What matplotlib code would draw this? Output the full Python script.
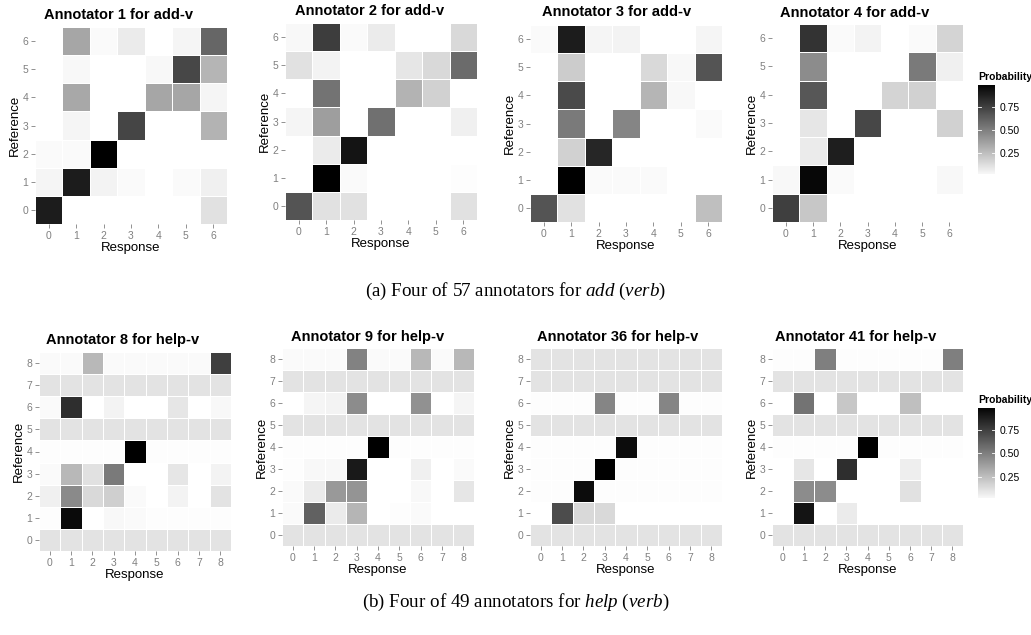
import numpy as np
import matplotlib
matplotlib.use("Agg")
import matplotlib.pyplot as plt
from matplotlib.colors import LinearSegmentedColormap, Normalize

plt.rcParams['font.family'] = ['Liberation Sans', 'DejaVu Sans']
plt.rcParams['mathtext.fontset'] = 'custom'
plt.rcParams['mathtext.rm'] = 'Liberation Serif'
plt.rcParams['mathtext.it'] = 'Liberation Serif:italic'

# ---- data: rows listed from top (highest reference) to bottom (reference 0)
U = 0.111  # uniform rows

ann1_add = [
    [0.00, 0.35, 0.02, 0.08, 0.00, 0.04, 0.60],
    [0.00, 0.03, 0.00, 0.00, 0.03, 0.72, 0.29],
    [0.00, 0.34, 0.00, 0.00, 0.35, 0.35, 0.04],
    [0.00, 0.04, 0.00, 0.73, 0.00, 0.00, 0.30],
    [0.02, 0.02, 1.00, 0.00, 0.00, 0.00, 0.00],
    [0.04, 0.89, 0.05, 0.02, 0.00, 0.02, 0.06],
    [0.89, 0.00, 0.00, 0.00, 0.00, 0.00, 0.12],
]
ann2_add = [
    [0.03, 0.76, 0.02, 0.08, 0.00, 0.00, 0.15],
    [0.12, 0.05, 0.00, 0.00, 0.10, 0.15, 0.58],
    [0.00, 0.55, 0.00, 0.00, 0.30, 0.18, 0.00],
    [0.04, 0.38, 0.00, 0.56, 0.00, 0.00, 0.06],
    [0.00, 0.08, 0.92, 0.00, 0.00, 0.00, 0.00],
    [0.00, 1.00, 0.02, 0.00, 0.00, 0.00, 0.01],
    [0.67, 0.12, 0.12, 0.00, 0.00, 0.00, 0.12],
]
ann3_add = [
    [0.02, 0.89, 0.04, 0.05, 0.00, 0.00, 0.04],
    [0.00, 0.20, 0.00, 0.00, 0.15, 0.03, 0.67],
    [0.00, 0.71, 0.00, 0.00, 0.29, 0.03, 0.00],
    [0.00, 0.52, 0.00, 0.48, 0.00, 0.00, 0.02],
    [0.00, 0.18, 0.85, 0.00, 0.00, 0.00, 0.00],
    [0.00, 1.00, 0.02, 0.02, 0.02, 0.00, 0.00],
    [0.67, 0.12, 0.00, 0.00, 0.00, 0.00, 0.25],
]
ann4_add = [
    [0.00, 0.80, 0.02, 0.05, 0.00, 0.02, 0.17],
    [0.00, 0.45, 0.00, 0.00, 0.00, 0.52, 0.06],
    [0.00, 0.66, 0.00, 0.00, 0.17, 0.18, 0.00],
    [0.00, 0.10, 0.00, 0.72, 0.00, 0.00, 0.18],
    [0.00, 0.08, 0.88, 0.00, 0.00, 0.00, 0.00],
    [0.03, 0.97, 0.02, 0.00, 0.00, 0.00, 0.03],
    [0.75, 0.22, 0.00, 0.00, 0.00, 0.00, 0.00],
]

ann8_help = [
    [0.02, 0.02, 0.28, 0.02, 0.02, 0.02, 0.02, 0.02, 0.75],
    [U] * 9,
    [0.02, 0.82, 0.00, 0.05, 0.00, 0.00, 0.10, 0.00, 0.03],
    [U] * 9,
    [0.01, 0.01, 0.01, 0.01, 1.00, 0.01, 0.01, 0.01, 0.01],
    [0.02, 0.28, 0.12, 0.52, 0.00, 0.00, 0.10, 0.00, 0.05],
    [0.06, 0.46, 0.15, 0.19, 0.02, 0.00, 0.05, 0.00, 0.11],
    [0.01, 0.96, 0.00, 0.03, 0.02, 0.01, 0.01, 0.01, 0.01],
    [U] * 9,
]
ann9_help = [
    [0.02, 0.02, 0.02, 0.49, 0.02, 0.02, 0.28, 0.02, 0.28],
    [U] * 9,
    [0.00, 0.04, 0.05, 0.45, 0.00, 0.00, 0.43, 0.00, 0.04],
    [U] * 9,
    [0.01, 0.01, 0.01, 0.01, 1.00, 0.01, 0.01, 0.01, 0.01],
    [0.01, 0.03, 0.03, 0.90, 0.00, 0.00, 0.06, 0.00, 0.02],
    [0.02, 0.08, 0.40, 0.42, 0.00, 0.00, 0.03, 0.00, 0.10],
    [0.02, 0.62, 0.08, 0.29, 0.00, 0.01, 0.02, 0.00, 0.00],
    [U] * 9,
]
ann36_help = [
    [U] * 9,
    [U] * 9,
    [0.01, 0.01, 0.01, 0.48, 0.01, 0.01, 0.48, 0.01, 0.01],
    [U] * 9,
    [0.01, 0.01, 0.01, 0.01, 0.95, 0.01, 0.01, 0.01, 0.01],
    [0.01, 0.01, 0.01, 1.00, 0.01, 0.01, 0.01, 0.01, 0.01],
    [0.01, 0.01, 0.95, 0.01, 0.01, 0.01, 0.01, 0.01, 0.01],
    [0.00, 0.70, 0.15, 0.15, 0.00, 0.00, 0.00, 0.00, 0.00],
    [U] * 9,
]
ann41_help = [
    [0.01, 0.01, 0.50, 0.01, 0.01, 0.01, 0.01, 0.01, 0.50],
    [U] * 9,
    [0.00, 0.55, 0.00, 0.22, 0.00, 0.00, 0.25, 0.00, 0.00],
    [U] * 9,
    [0.01, 0.01, 0.01, 0.01, 1.00, 0.01, 0.01, 0.01, 0.01],
    [0.00, 0.10, 0.00, 0.82, 0.00, 0.00, 0.07, 0.00, 0.00],
    [0.00, 0.45, 0.45, 0.00, 0.00, 0.00, 0.12, 0.00, 0.00],
    [0.00, 0.92, 0.00, 0.08, 0.00, 0.00, 0.00, 0.00, 0.00],
    [U] * 9,
]

titles = ["Annotator 1 for add-v", "Annotator 2 for add-v", "Annotator 3 for add-v",
          "Annotator 4 for add-v", "Annotator 8 for help-v", "Annotator 9 for help-v",
          "Annotator 36 for help-v", "Annotator 41 for help-v"]
matrices = [ann1_add, ann2_add, ann3_add, ann4_add,
            ann8_help, ann9_help, ann36_help, ann41_help]
cbar_ticks = [0.25, 0.50, 0.75]
cbar_range = (0.03, 0.98)

W, H = 1031, 635
# axes boxes in pixels: left, top, right, bottom
boxes = [(35, 27, 227, 224), (285, 23, 477, 220), (530, 25, 722, 222), (772, 24, 963, 222),
         (39, 352, 231, 551), (282, 348, 474, 546), (530, 348, 722, 546), (772, 348, 963, 546)]
title_pos = [(119, 15), (370, 11), (617, 12), (855, 13),
             (123, 340), (368, 337), (618, 337), (856, 337)]
cbar_boxes = [(978, 85, 995, 174), (978, 408, 995, 498)]

cmap = LinearSegmentedColormap.from_list("wb", ["white", "black"])
norm = Normalize(0, 1)
grey = "#808080"

fig = plt.figure(figsize=(W / 100, H / 100), dpi=100)


def pix_axes(box):
    l, t, r, b = box
    return fig.add_axes([l / W, 1 - b / H, (r - l) / W, (b - t) / H])


for k, (mat, title) in enumerate(zip(matrices, titles)):
    data = np.array(mat)[::-1]  # reference 0 at bottom
    n = data.shape[0]
    ax = pix_axes(boxes[k])
    idx = np.arange(n + 1) - 0.5
    ax.pcolormesh(idx, idx, data, cmap=cmap, norm=norm, edgecolors="white", linewidth=0.6)
    ax.set_xlim(-0.5, n - 0.5)
    ax.set_ylim(-0.5, n - 0.5)
    ax.set_xticks(range(n))
    ax.set_yticks(range(n))
    ax.tick_params(colors=grey, labelsize=7.5, length=3, width=0.6, pad=2)
    for s in ax.spines.values():
        s.set_visible(False)
    ax.set_xlabel("Response", fontsize=9.5, labelpad=1)
    ax.set_ylabel("Reference", fontsize=9.5, labelpad=1)
    tx, ty = title_pos[k]
    fig.text(tx / W, 1 - ty / H, title, ha="center", va="center",
             fontsize=10.5, fontweight="bold")

# colour bars
grad = np.linspace(cbar_range[0], cbar_range[1], 256)[:, None]
for box in cbar_boxes:
    cax = pix_axes(box)
    cax.imshow(grad, cmap=cmap, norm=norm, aspect="auto", origin="lower",
               extent=[0, 1, cbar_range[0], cbar_range[1]])
    for t in cbar_ticks:
        cax.plot([0, 0.2], [t, t], color="white", lw=0.6)
        cax.plot([0.8, 1], [t, t], color="white", lw=0.6)
    cax.set_xlim(0, 1)
    cax.set_ylim(*cbar_range)
    cax.set_xticks([])
    cax.yaxis.tick_right()
    cax.set_yticks(cbar_ticks)
    cax.set_yticklabels(["%.2f" % t for t in cbar_ticks])
    cax.tick_params(axis="y", length=0, labelsize=7.5, pad=3)
    for s in cax.spines.values():
        s.set_visible(False)
    l, t, r, b = box
    fig.text(l / W, 1 - (t - 8) / H, "Probability", ha="left", va="center",
             fontsize=7.5, fontweight="bold")

# captions
cap_font = ['Liberation Serif', 'DejaVu Serif']
fig.text(0.5, 1 - 291 / H, "(a) Four of 57 annotators for $\\mathit{add\\ (verb)}$",
         ha="center", va="center", fontsize=13.7, family=cap_font)
fig.text(0.5, 1 - 602 / H, "(b) Four of 49 annotators for $\\mathit{help\\ (verb)}$",
         ha="center", va="center", fontsize=13.7, family=cap_font)

fig.savefig("out.png", dpi=100)
